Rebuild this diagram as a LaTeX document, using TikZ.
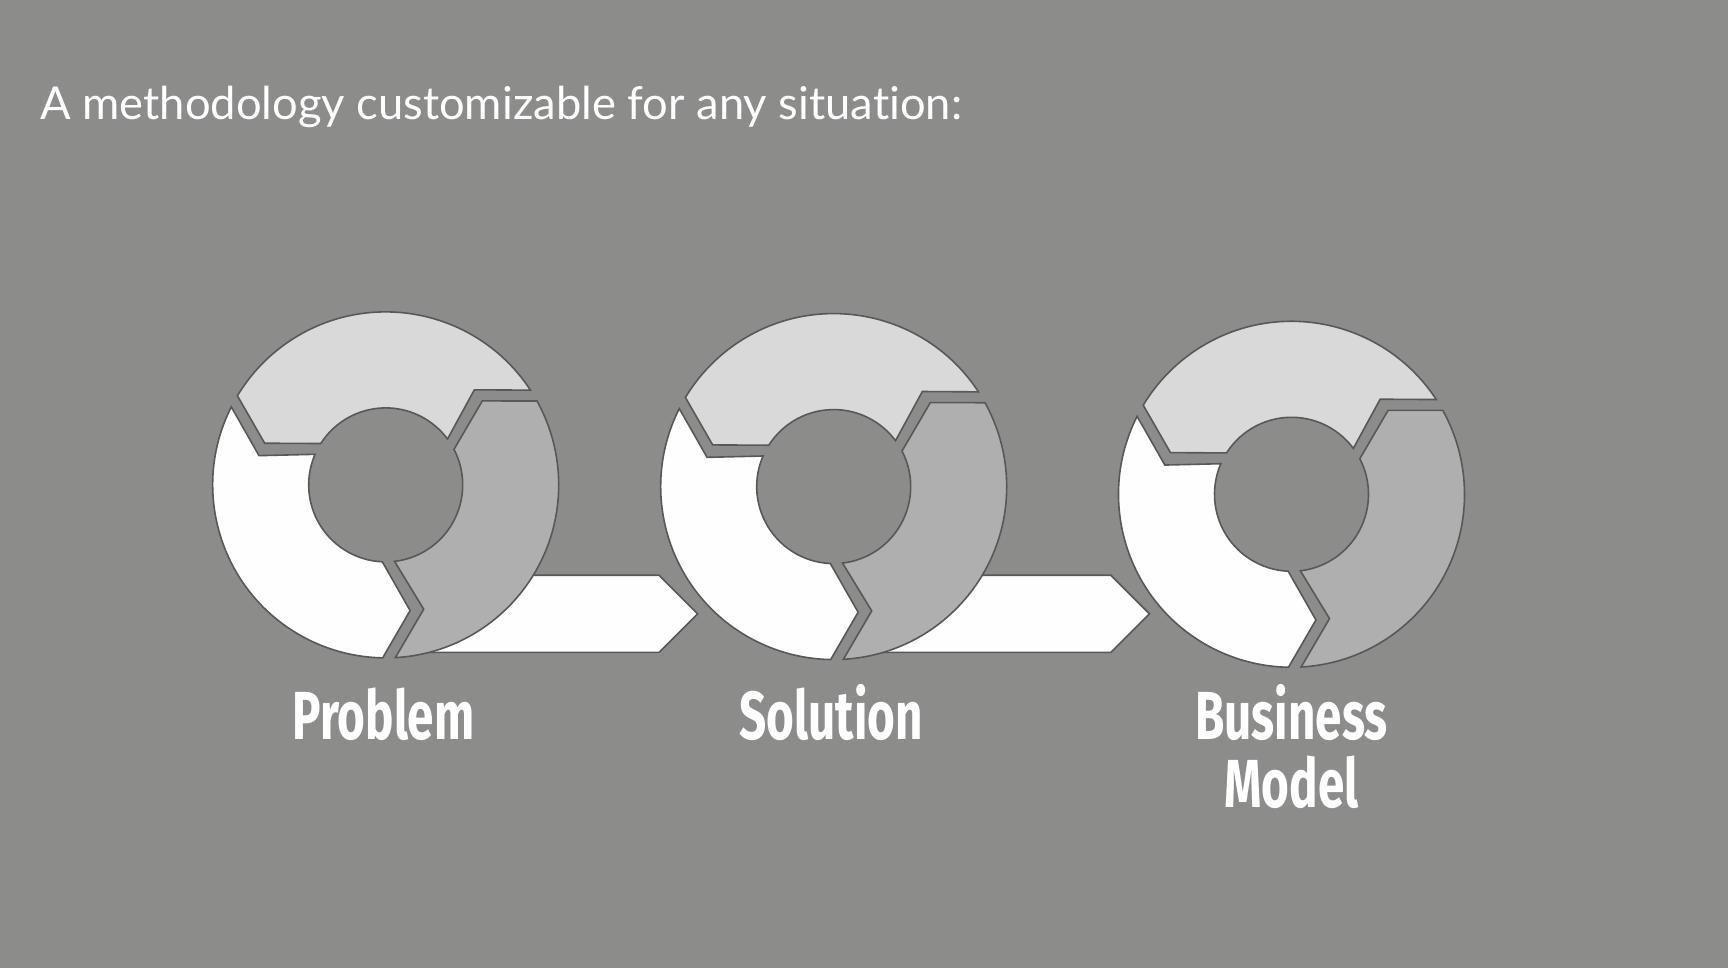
\documentclass[tikz,border=0pt]{standalone}
\usepackage{fontspec}
\setmainfont{Lato}[Ligatures={NoCommon}]
\newfontfamily\labelfont[FakeStretch=0.7]{Fira Sans}
\usetikzlibrary{positioning}
\definecolor{slidebg}{RGB}{140,140,139}
\definecolor{segedge}{RGB}{88,88,88}
\definecolor{seglight}{RGB}{217,217,217}
\definecolor{segmid}{RGB}{175,175,175}
\definecolor{segwhite}{RGB}{254,254,254}

\begin{document}
\begin{tikzpicture}[x=1pt,y=1pt]
\tikzstyle{seg}=[draw=segedge, line width=1.6pt]
\tikzstyle{chevron}=[fill=segwhite, draw=segedge, line width=1.6pt]
\tikzstyle{lbl}=[text=white, inner sep=0pt, align=center, font=\labelfont\bfseries\fontsize{68}{68}\selectfont]
\tikzstyle{heading}=[text=white, inner sep=0pt, font=\fontsize{45.3}{52}\selectfont]
  \fill[slidebg] (0,0) rectangle (1728,968);
  \useasboundingbox (0,0) rectangle (1728,968);
  \node[heading, anchor=base west] (title) at (40,848.7) {A methodology customizable for any situation:};
  % centres of the three cycles
  \coordinate (problem) at (385.7,483.1);
  \coordinate (solution) at (833.7,481.4);
  \coordinate (business) at (1291.5,473.7);
  % arrows between the cycles, under the rings
  \foreach \xa/\xb/\xc in {426.7/659/697.6, 874.7/1110.9/1149.4}
    \draw[chevron] (\xa,392.7) -- (\xb,392.7) -- (\xc,354.2) -- (\xb,315.6) -- (\xa,315.6) -- cycle;
  % three segments per cycle
  \foreach \ring in {problem,solution,business}
    \foreach \rot/\col in {0/seglight,-120/segmid,-240/segwhite}
      \draw[seg, fill=\col, shift={(\ring)}, rotate=\rot]
        (149:173pt) -- (161:128pt) -- (147.5:77pt)
        arc[start angle=147.5, end angle=36.6, radius=77pt]
        -- (47:130pt) -- (33.2:173pt)
        arc[start angle=33.2, end angle=149, radius=173pt] -- cycle;
  \node[lbl, anchor=base] (problemlbl) at (383.5,228.5) {Problem};
  \node[lbl, anchor=base] (solutionlbl) at (831,228.5) {Solution};
  \node[lbl, anchor=base] (businesslbl) at (1291.5,160) {Business\\Model};
\end{tikzpicture}
\end{document}
